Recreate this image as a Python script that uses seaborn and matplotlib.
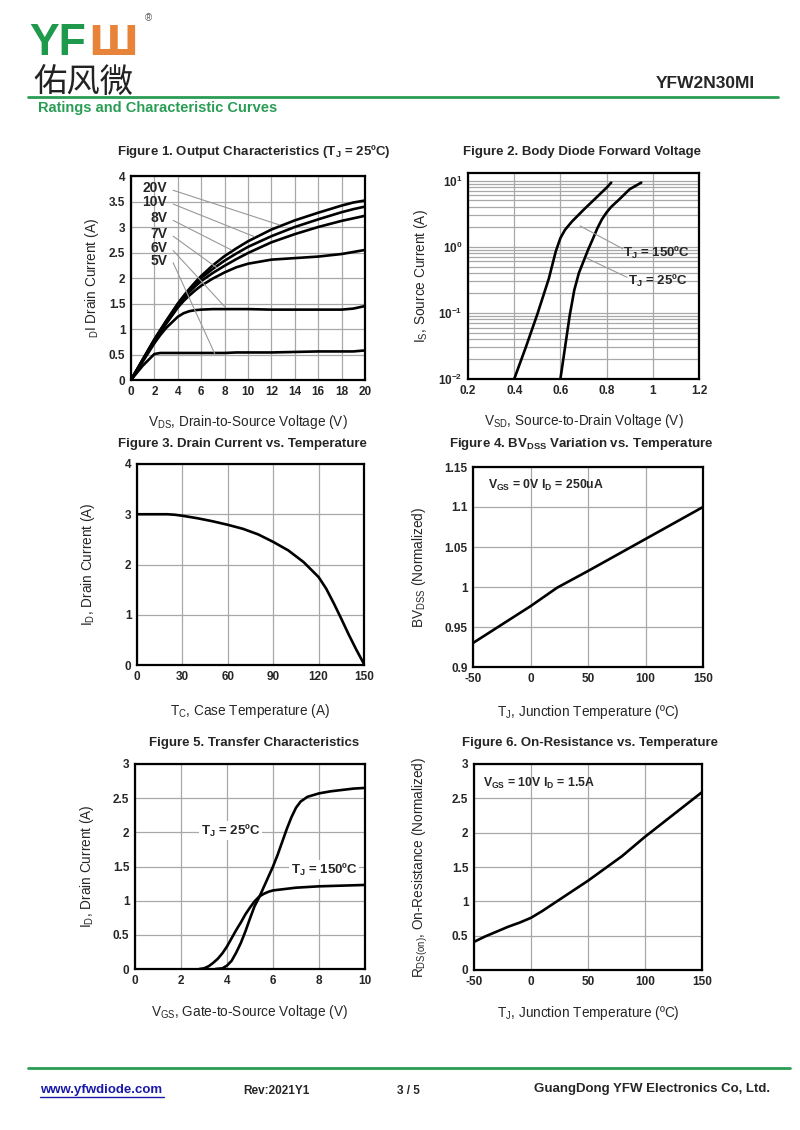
import numpy as np
import pandas as pd
import matplotlib
matplotlib.use("Agg")
import matplotlib.pyplot as plt
from matplotlib.ticker import FixedLocator, LogLocator, NullFormatter, FuncFormatter
import seaborn as sns

# ---------------- data ----------------
# Figure 1: output characteristics
vds = [0, 1, 2, 2.5, 3, 4, 4.5, 5, 5.5, 6, 7, 8, 9, 10, 12, 14, 16, 18, 19, 20]
id_20v = [0, 0.40, 0.80, 0.98, 1.16, 1.50, 1.65, 1.79, 1.92, 2.04, 2.25, 2.43, 2.58, 2.72, 2.95, 3.13, 3.28, 3.42, 3.48, 3.52]
id_10v = [0, 0.40, 0.79, 0.97, 1.14, 1.48, 1.63, 1.76, 1.89, 2.00, 2.18, 2.34, 2.48, 2.61, 2.82, 3.00, 3.15, 3.29, 3.35, 3.40]
id_8v = [0, 0.39, 0.78, 0.95, 1.12, 1.46, 1.60, 1.73, 1.84, 1.94, 2.10, 2.24, 2.37, 2.49, 2.70, 2.86, 3.00, 3.12, 3.17, 3.22]
id_7v = [0, 0.38, 0.76, 0.93, 1.10, 1.42, 1.55, 1.66, 1.76, 1.85, 1.99, 2.11, 2.21, 2.28, 2.36, 2.39, 2.42, 2.47, 2.51, 2.55]
id_6v = [0, 0.36, 0.72, 0.88, 1.02, 1.24, 1.31, 1.35, 1.37, 1.38, 1.39, 1.39, 1.39, 1.39, 1.38, 1.38, 1.38, 1.38, 1.40, 1.45]
id_5v = [0, 0.28, 0.51, 0.53, 0.53, 0.53, 0.53, 0.53, 0.53, 0.53, 0.53, 0.53, 0.54, 0.54, 0.54, 0.55, 0.56, 0.56, 0.56, 0.58]
vgs_labels = ["20V", "10V", "8V", "7V", "6V", "5V"]

# Figure 2: body diode forward voltage
vsd_150 = [0.40, 0.45, 0.50, 0.55, 0.58, 0.60, 0.62, 0.65, 0.70, 0.75, 0.80, 0.82]
is_150 = [0.01, 0.03, 0.095, 0.33, 0.85, 1.35, 1.8, 2.4, 3.6, 5.3, 7.8, 9.3]
vsd_25 = [0.60, 0.62, 0.64, 0.66, 0.68, 0.70, 0.72, 0.74, 0.76, 0.78, 0.80, 0.82, 0.85, 0.90, 0.95]
is_25 = [0.01, 0.03, 0.09, 0.22, 0.40, 0.60, 0.90, 1.3, 1.9, 2.6, 3.3, 4.0, 5.0, 7.4, 9.3]

# Figure 3: drain current vs case temperature
tc = [0, 10, 20, 25, 30, 40, 50, 60, 70, 80, 90, 100, 110, 120, 125, 130, 135, 140, 145, 150]
id_tc = [3.0, 3.0, 3.0, 2.99, 2.97, 2.92, 2.86, 2.79, 2.71, 2.60, 2.45, 2.28, 2.05, 1.75, 1.52, 1.23, 0.92, 0.60, 0.30, 0.02]

# Figure 4: BVdss vs junction temperature
tj_bv = [-50, 0, 23, 50, 100, 150]
bv_norm = [0.930, 0.976, 0.999, 1.020, 1.060, 1.100]

# Figure 5: transfer characteristics
vgs_25 = [3.5, 3.8, 4.0, 4.2, 4.4, 4.6, 4.8, 5.0, 5.2, 5.4, 5.6, 5.8, 6.0, 6.2, 6.4, 6.6, 6.8, 7.0, 7.2, 7.5, 8.0, 8.5, 9.0, 9.5, 10]
id_25 = [0.0, 0.01, 0.05, 0.12, 0.24, 0.38, 0.55, 0.74, 0.92, 1.05, 1.2, 1.35, 1.5, 1.67, 1.86, 2.05, 2.22, 2.36, 2.45, 2.52, 2.57, 2.6, 2.62, 2.64, 2.65]
vgs_150 = [2.8, 3.0, 3.2, 3.4, 3.6, 3.8, 4.0, 4.2, 4.4, 4.6, 4.8, 5.0, 5.2, 5.4, 5.6, 5.8, 6.0, 6.5, 7.0, 8.0, 9.0, 10]
id_150 = [0.0, 0.01, 0.04, 0.09, 0.15, 0.23, 0.33, 0.45, 0.57, 0.68, 0.80, 0.90, 0.99, 1.06, 1.10, 1.13, 1.15, 1.17, 1.19, 1.21, 1.22, 1.23]

# Figure 6: on-resistance vs junction temperature
tj_r = [-50, -40, -30, -20, -10, 0, 10, 20, 30, 40, 50, 60, 70, 80, 90, 100, 110, 120, 130, 140, 150]
rds_norm = [0.41, 0.49, 0.56, 0.63, 0.69, 0.76, 0.86, 0.97, 1.08, 1.19, 1.30, 1.42, 1.54, 1.66, 1.80, 1.94, 2.07, 2.20, 2.33, 2.46, 2.59]

# ---------------- style ----------------
sns.set_theme(style="white")
plt.rcParams['font.family'] = ['Liberation Sans', 'Noto Sans CJK SC', 'DejaVu Sans']
plt.rcParams['mathtext.default'] = 'regular'
plt.rcParams['axes.unicode_minus'] = False
GREEN = "#2a9d55"
GRID = "#a8a8a8"
TICKFS = 8.5
LABFS = 9.8
TITFS = 9.5
LW = 1.9

fig = plt.figure(figsize=(8, 11.3), dpi=100)
W, H = 800.0, 1130.0


def add_ax(x0, y0, x1, y1):
    return fig.add_axes([x0 / W, 1 - y1 / H, (x1 - x0) / W, (y1 - y0) / H])


def style_ax(ax):
    for s in ax.spines.values():
        s.set_visible(True)
        s.set_color("black")
        s.set_linewidth(1.6)
    ax.grid(True, color=GRID, linewidth=0.9)
    ax.set_axisbelow(True)
    ax.tick_params(length=0, pad=4, labelsize=TICKFS)
    for lab in ax.get_xticklabels() + ax.get_yticklabels():
        lab.set_fontweight("bold")


def title(ax, txt, cx, cy):
    fig.text(cx / W, 1 - cy / H, txt, ha="center", va="center", fontsize=TITFS, fontweight="bold")


# ---------------- Figure 1 ----------------
ax1 = add_ax(131, 176, 365, 380)
df1 = pd.DataFrame({"Vds": vds * 6,
                    "Id": id_20v + id_10v + id_8v + id_7v + id_6v + id_5v,
                    "Vgs": sum([[l] * len(vds) for l in vgs_labels], [])})
sns.lineplot(data=df1, x="Vds", y="Id", hue="Vgs", palette=["black"] * 6, estimator=None,
             sort=False, legend=False, linewidth=LW, ax=ax1)
ax1.set_xlim(0, 20)
ax1.set_ylim(0, 4)
ax1.set_xticks(np.arange(0, 21, 2))
ax1.set_yticks(np.arange(0, 4.01, 0.5))
ax1.yaxis.set_major_formatter(FuncFormatter(lambda v, p: f"{v:g}"))
style_ax(ax1)
ax1.set_xlabel("V$_{DS}$, Drain-to-Source Voltage (V)", fontsize=LABFS, labelpad=11)
ax1.set_ylabel("$_{D}$I Drain Current (A)", fontsize=LABFS, labelpad=6)
lab_y = [3.76, 3.49, 3.17, 2.86, 2.58, 2.34]
lead_end = [(12.7, 3.04), (10.55, 2.81), (8.57, 2.55), (7.4, 2.19), (8.0, 1.44), (7.15, 0.52)]
for lab, ly, (ex, ey) in zip(vgs_labels, lab_y, lead_end):
    ax1.text(3.1, ly, lab, ha="right", va="center", fontsize=10, fontweight="bold")
    ax1.plot([3.6, ex], [ly - 0.04, ey], color="#999999", linewidth=0.8)
title(ax1, "Figure 1. Output Characteristics (T$_{J}$ = 25ºC)", 254, 152)

# ---------------- Figure 2 ----------------
ax2 = add_ax(468, 173, 699, 379)
df2 = pd.DataFrame({"Vsd": vsd_150 + vsd_25, "Is": is_150 + is_25,
                    "T": ["150"] * len(vsd_150) + ["25"] * len(vsd_25)})
sns.lineplot(data=df2, x="Vsd", y="Is", hue="T", palette=["black", "black"], estimator=None,
             sort=False, legend=False, linewidth=LW, ax=ax2)
ax2.set_yscale("log")
ax2.set_xlim(0.2, 1.2)
ax2.set_ylim(0.01, 13)
ax2.set_xticks([0.2, 0.4, 0.6, 0.8, 1.0, 1.2])
ax2.xaxis.set_major_formatter(FuncFormatter(lambda v, p: f"{v:g}"))
ax2.yaxis.set_major_locator(FixedLocator([0.01, 0.1, 1, 10]))
ax2.yaxis.set_major_formatter(FuncFormatter(lambda v, p: "10$^{%d}$" % int(round(np.log10(v)))))
ax2.yaxis.set_minor_locator(LogLocator(base=10, subs=np.arange(2, 10)))
ax2.yaxis.set_minor_formatter(NullFormatter())
style_ax(ax2)
ax2.grid(True, which="minor", axis="y", color=GRID, linewidth=0.9)
ax2.tick_params(which="minor", length=0)
ax2.set_xlabel("V$_{SD}$, Source-to-Drain Voltage (V)", fontsize=LABFS, labelpad=11)
ax2.set_ylabel("I$_{S}$, Source Current (A)", fontsize=LABFS, labelpad=6)
ax2.text(0.872, 0.80, "T$_{J}$ = 150ºC", ha="left", va="center", fontsize=9.5, fontweight="bold")
ax2.text(0.893, 0.30, "T$_{J}$ = 25ºC", ha="left", va="center", fontsize=9.5, fontweight="bold")
ax2.plot([0.685, 0.87], [2.06, 0.93], color="#999999", linewidth=0.8)
ax2.plot([0.714, 0.888], [0.67, 0.345], color="#999999", linewidth=0.8)
title(ax2, "Figure 2. Body Diode Forward Voltage", 582, 152)

# ---------------- Figure 3 ----------------
ax3 = add_ax(137, 464, 364, 665)
sns.lineplot(x=tc, y=id_tc, color="black", linewidth=LW, estimator=None, sort=False, ax=ax3)
ax3.set_xlim(0, 150)
ax3.set_ylim(0, 4)
ax3.set_xticks([0, 30, 60, 90, 120, 150])
ax3.set_yticks([0, 1, 2, 3, 4])
style_ax(ax3)
ax3.set_xlabel("T$_{C}$, Case Temperature (A)", fontsize=LABFS, labelpad=14)
ax3.set_ylabel("I$_{D}$, Drain Current (A)", fontsize=LABFS, labelpad=20)
title(ax3, "Figure 3. Drain Current vs. Temperature", 242, 444)

# ---------------- Figure 4 ----------------
ax4 = add_ax(473, 467, 703, 667)
sns.lineplot(x=tj_bv, y=bv_norm, color="black", linewidth=LW, estimator=None, sort=False, ax=ax4)
ax4.set_xlim(-50, 150)
ax4.set_ylim(0.9, 1.15)
ax4.set_xticks([-50, 0, 50, 100, 150])
ax4.set_yticks([0.9, 0.95, 1.0, 1.05, 1.1, 1.15])
ax4.yaxis.set_major_formatter(FuncFormatter(lambda v, p: f"{v:g}"))
style_ax(ax4)
ax4.set_xlabel("T$_{J}$, Junction Temperature (ºC)", fontsize=LABFS, labelpad=13)
ax4.set_ylabel("BV$_{DSS}$ (Normalized)", fontsize=LABFS, labelpad=12)
ax4.text(-37, 1.127, "V$_{GS}$ = 0V I$_{D}$ = 250uA", ha="left", va="center", fontsize=8.8, fontweight="bold")
title(ax4, "Figure 4. BV$_{DSS}$ Variation vs. Temperature", 581, 444)

# ---------------- Figure 5 ----------------
ax5 = add_ax(135, 764, 365, 969)
df5 = pd.DataFrame({"Vgs": vgs_25 + vgs_150, "Id": id_25 + id_150,
                    "T": ["25"] * len(vgs_25) + ["150"] * len(vgs_150)})
sns.lineplot(data=df5, x="Vgs", y="Id", hue="T", palette=["black", "black"], estimator=None,
             sort=False, legend=False, linewidth=LW, ax=ax5)
ax5.set_xlim(0, 10)
ax5.set_ylim(0, 3)
ax5.set_xticks([0, 2, 4, 6, 8, 10])
ax5.set_yticks([0, 0.5, 1, 1.5, 2, 2.5, 3])
ax5.yaxis.set_major_formatter(FuncFormatter(lambda v, p: f"{v:g}"))
style_ax(ax5)
ax5.set_xlabel("V$_{GS}$, Gate-to-Source Voltage (V)", fontsize=LABFS, labelpad=12)
ax5.set_ylabel("I$_{D}$, Drain Current (A)", fontsize=LABFS, labelpad=12)
ax5.text(2.86, 2.02, "T$_{J}$ = 25ºC", ha="left", va="center", fontsize=9.5, fontweight="bold",
         bbox=dict(facecolor="white", edgecolor="none", pad=1))
ax5.text(6.77, 1.45, "T$_{J}$ = 150ºC", ha="left", va="center", fontsize=9.5, fontweight="bold",
         bbox=dict(facecolor="white", edgecolor="none", pad=1))
title(ax5, "Figure 5. Transfer Characteristics", 254, 743)

# ---------------- Figure 6 ----------------
ax6 = add_ax(474, 764, 702, 970)
sns.lineplot(x=tj_r, y=rds_norm, color="black", linewidth=LW, estimator=None, sort=False, ax=ax6)
ax6.set_xlim(-50, 150)
ax6.set_ylim(0, 3)
ax6.set_xticks([-50, 0, 50, 100, 150])
ax6.set_yticks([0, 0.5, 1, 1.5, 2, 2.5, 3])
ax6.yaxis.set_major_formatter(FuncFormatter(lambda v, p: f"{v:g}"))
style_ax(ax6)
ax6.set_xlabel("T$_{J}$, Junction Temperature (ºC)", fontsize=LABFS, labelpad=12)
ax6.set_ylabel("R$_{DS(on)}$, On-Resistance (Normalized)", fontsize=LABFS, labelpad=16)
ax6.text(-42, 2.72, "V$_{GS}$ = 10V I$_{D}$ = 1.5A", ha="left", va="center", fontsize=8.8, fontweight="bold")
title(ax6, "Figure 6. On-Resistance vs. Temperature", 590, 743)

# ---------------- header / footer ----------------
fig.text(29 / W, 1 - 55 / H, "YF", color="#1f9a4c", fontsize=32, fontweight="bold", va="baseline", ha="left")
fig.text(88 / W, 1 - 55 / H, "Ш", color="#e8843a", fontsize=29, fontweight="bold", va="baseline", ha="left",
         family=["DejaVu Sans"])
fig.text(145 / W, 1 - 18 / H, "®", color="#555555", fontsize=7, va="center", ha="left")
fig.text(33 / W, 1 - 93 / H, "佑风微", color="#222222", fontsize=24, va="baseline", ha="left",
         family=["Noto Sans CJK SC"])
fig.text(755 / W, 1 - 83 / H, "YFW2N30MI", fontsize=12.5, fontweight="bold", ha="right", va="center")
fig.add_artist(plt.Line2D([28 / W, 778 / W], [1 - 97 / H, 1 - 97 / H], color=GREEN, linewidth=2))
fig.text(38 / W, 1 - 108 / H, "Ratings and Characteristic Curves", color=GREEN, fontsize=10.5,
         fontweight="bold", ha="left", va="center")

fig.add_artist(plt.Line2D([28 / W, 790 / W], [1 - 1068 / H, 1 - 1068 / H], color=GREEN, linewidth=2))
fig.text(40 / W, 1 - 1090 / H, "www.yfwdiode.com", color="#1a1aa8", fontsize=9.5, fontweight="bold",
         ha="left", va="center")
fig.add_artist(plt.Line2D([40 / W, 164 / W], [1 - 1097 / H, 1 - 1097 / H], color="#1a1aa8", linewidth=1))
fig.text(243 / W, 1 - 1091 / H, "Rev:2021Y1", fontsize=8.5, fontweight="bold", ha="left", va="center")
fig.text(397 / W, 1 - 1091 / H, "3 / 5", fontsize=8.5, fontweight="bold", ha="left", va="center")
fig.text(770 / W, 1 - 1089 / H, "GuangDong YFW Electronics Co, Ltd.", fontsize=9.5, fontweight="bold",
         ha="right", va="center")

fig.savefig("out.png", dpi=100, facecolor="white")
